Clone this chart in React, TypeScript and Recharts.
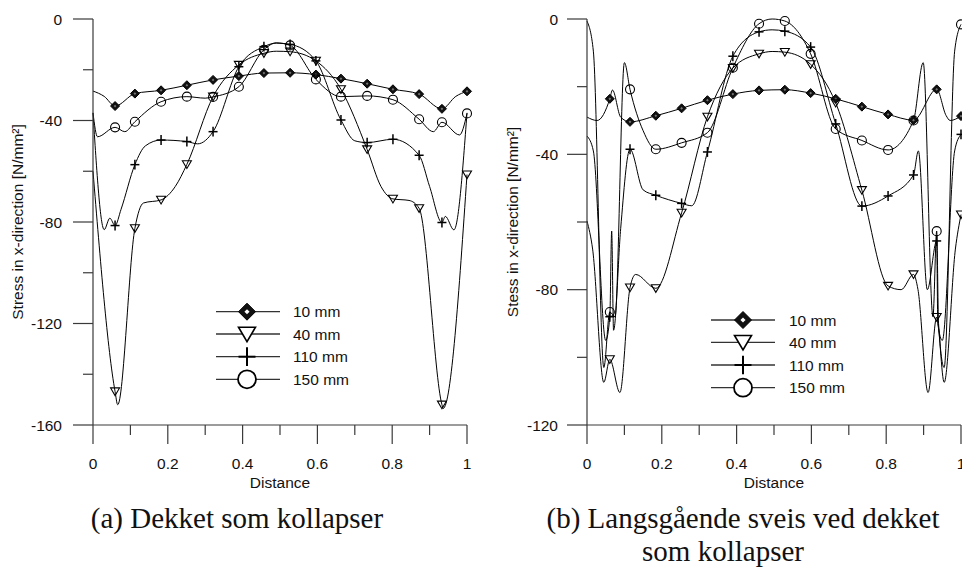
import React from "react";
import { LineChart, Line, XAxis, YAxis } from "recharts";

type Pt = [number, number, number?];

// x = distance (0..1), y = stress, third value 1 = point carries a marker
const distTicks = [0, 0.1, 0.2, 0.3, 0.4, 0.5, 0.6, 0.7, 0.8, 0.9, 1];
const stressTicksA = [0, -20, -40, -60, -80, -100, -120, -140, -160];
const stressTicksB = [0, -20, -40, -60, -80, -100, -120];
const seriesNames = ["10 mm", "40 mm", "110 mm", "150 mm"];
const markerKinds = ["diamond", "triangle", "plus", "circle"];

// (a) Dekket som kollapser
const a10: Pt[] = [
  [0, -28.4], [0.03, -30.5], [0.059, -34.3, 1], [0.112, -29.4, 1], [0.182, -28.1, 1],
  [0.251, -26.1, 1], [0.321, -24.0, 1], [0.39, -22.5, 1], [0.457, -21.3, 1], [0.527, -21.2, 1],
  [0.596, -21.9, 1], [0.663, -23.5, 1], [0.733, -25.5, 1], [0.802, -27.7, 1], [0.872, -29.6, 1],
  [0.933, -35.4, 1], [0.97, -30.5], [1, -28.5, 1],
];
const a40: Pt[] = [
  [0, -60], [0.059, -146.8, 1], [0.066, -152], [0.112, -82.5, 1], [0.135, -72.5],
  [0.182, -71.3, 1], [0.22, -66], [0.251, -57.3, 1], [0.321, -30.6, 1], [0.39, -18.1, 1],
  [0.457, -13.5, 1], [0.49, -12.7], [0.527, -12.9, 1], [0.596, -16.5, 1], [0.663, -27.7, 1],
  [0.733, -51.4, 1], [0.77, -66], [0.802, -70.9, 1], [0.845, -71.5], [0.872, -74.6, 1],
  [0.933, -152, 1], [0.936, -153.5], [1, -61.3, 1],
];
const a110: Pt[] = [
  [0, -37], [0.03, -83], [0.045, -78.5], [0.059, -81.4, 1], [0.075, -75], [0.112, -57.4, 1],
  [0.14, -50], [0.182, -47.7, 1], [0.251, -48.3, 1], [0.28, -49.2], [0.321, -44.4, 1],
  [0.39, -18.8, 1], [0.457, -10.9, 1], [0.49, -9.5], [0.527, -10.0, 1], [0.596, -16.5, 1],
  [0.663, -39.8, 1], [0.7, -48], [0.733, -48.7, 1], [0.802, -47.4, 1], [0.872, -53.7, 1],
  [0.9, -66], [0.933, -80.2, 1], [0.942, -77.8], [0.965, -83.1], [1, -37],
];
const a150: Pt[] = [
  [0, -37], [0.012, -46.4], [0.059, -42.7, 1], [0.085, -44.4], [0.112, -40.5, 1],
  [0.182, -32.6, 1], [0.251, -30.6, 1], [0.3, -31.2], [0.321, -30.7, 1], [0.39, -26.7, 1],
  [0.457, -12.1, 1], [0.49, -9.4], [0.527, -10.4, 1], [0.596, -23.8, 1], [0.663, -30.6, 1],
  [0.733, -30.3, 1], [0.802, -31.8, 1], [0.872, -39.5, 1], [0.91, -44.4], [0.933, -40.7, 1],
  [0.98, -45.7], [1, -37.2, 1],
];

// (b) Langsgående sveis ved dekket som kollapser
const b10: Pt[] = [
  [0, -29], [0.027, -30], [0.061, -23.6, 1], [0.068, -21], [0.09, -29], [0.115, -30.4, 1],
  [0.184, -28.6, 1], [0.253, -26.4, 1], [0.322, -24.0, 1], [0.39, -22.2, 1], [0.46, -21.1, 1],
  [0.529, -20.9, 1], [0.598, -21.9, 1], [0.665, -23.6, 1], [0.735, -25.9, 1], [0.805, -28.2, 1],
  [0.873, -29.9, 1], [0.935, -20.8, 1], [0.96, -28.5], [0.971, -30], [1, -28.7, 1],
];
const b40: Pt[] = [
  [0, -59.7], [0.015, -68], [0.045, -107.4], [0.061, -100.6, 1], [0.088, -110.4],
  [0.115, -79.4, 1], [0.13, -75.5], [0.184, -79.6, 1], [0.253, -57.3, 1], [0.322, -28.9, 1],
  [0.39, -14.5, 1], [0.46, -10.3, 1], [0.495, -9.6], [0.529, -9.8, 1], [0.598, -13.4, 1],
  [0.665, -24.8, 1], [0.735, -50.6, 1], [0.805, -78.9, 1], [0.84, -80], [0.873, -75.5, 1],
  [0.885, -80], [0.912, -110.4], [0.935, -88.1, 1], [0.955, -107.4], [0.985, -68], [1, -57.8, 1],
];
const b110: Pt[] = [
  [0, -34.6], [0.017, -39], [0.05, -95], [0.061, -88, 1], [0.066, -62.7], [0.071, -92],
  [0.09, -62], [0.115, -38.5, 1], [0.15, -50.5], [0.184, -52.1, 1], [0.253, -54.5, 1],
  [0.28, -55.2], [0.322, -39.3, 1], [0.39, -11, 1], [0.46, -3.8, 1], [0.495, -3.2],
  [0.529, -3.6, 1], [0.598, -8.3, 1], [0.665, -31, 1], [0.735, -55.3, 1], [0.805, -52.3, 1],
  [0.873, -46.1, 1], [0.886, -39], [0.91, -80], [0.935, -65.6, 1], [0.938, -90], [0.95, -95],
  [0.983, -39], [1, -34.1, 1],
];
const b150: Pt[] = [
  [0, -0.6], [0.017, -9.5], [0.045, -103], [0.061, -86.6, 1], [0.075, -88], [0.1, -12.9],
  [0.115, -20.8, 1], [0.15, -33], [0.184, -38.5, 1], [0.253, -36.6, 1], [0.322, -33.6, 1],
  [0.39, -14.4, 1], [0.46, -1.4, 1], [0.495, 0], [0.529, -0.6, 1], [0.598, -10.3, 1],
  [0.665, -32.5, 1], [0.735, -35.9, 1], [0.805, -38.7, 1], [0.873, -30, 1], [0.899, -12.9],
  [0.925, -88], [0.935, -62.7, 1], [0.94, -90], [0.955, -103], [0.983, -9.5], [1, -1.6, 1],
];

const FONT = '"Liberation Sans", Arial, sans-serif';
const SERIF = '"Liberation Serif", "Times New Roman", serif';
const AXIS = "#3a3a3a";

const toRows = (pts: Pt[]) => pts.map(([x, y, m]) => ({ x, y, m: !!m }));

function Marker({ kind, cx, cy, s, legend }: any) {
  if (kind === "diamond") {
    return (
      <g>
        <polygon
          points={`${cx},${cy - s} ${cx + s},${cy} ${cx},${cy + s} ${cx - s},${cy}`}
          fill="#111"
          stroke="#000"
          strokeWidth={1}
        />
        <polygon
          points={`${cx},${cy - s * 0.3} ${cx + s * 0.3},${cy} ${cx},${cy + s * 0.3} ${cx - s * 0.3},${cy}`}
          fill={legend ? "#fff" : "#777"}
        />
      </g>
    );
  }
  if (kind === "triangle") {
    return (
      <polygon
        points={`${cx - s},${cy - s * 0.8} ${cx + s},${cy - s * 0.8} ${cx},${cy + s * 0.9}`}
        fill={legend ? "#fff" : "none"}
        stroke="#000"
        strokeWidth={legend ? 1.6 : 1.1}
      />
    );
  }
  if (kind === "plus") {
    const w = legend ? 2 : 1.5;
    return (
      <g stroke="#000" strokeWidth={w}>
        <line x1={cx - s} x2={cx + s} y1={cy} y2={cy} />
        <line x1={cx} x2={cx} y1={cy - s * 1.1} y2={cy + s * 1.1} />
      </g>
    );
  }
  return (
    <circle cx={cx} cy={cy} r={s} fill={legend ? "#fff" : "none"} stroke="#000" strokeWidth={legend ? 1.8 : 1.1} />
  );
}

function YTick(props: any) {
  const { x, y, payload, gap } = props;
  const v = payload.value;
  const major = v % 40 === 0;
  return (
    <g>
      <line x1={x} x2={x - (major ? 20 : 10)} y1={y} y2={y} stroke={AXIS} strokeWidth={1.2} />
      {major && (
        <text x={x - gap} y={y + 5.5} textAnchor="end" fontSize={15.5} fontFamily={FONT} fill="#111">
          {v}
        </text>
      )}
    </g>
  );
}

function XTick(props: any) {
  const { x, y, payload } = props;
  const v = payload.value;
  const major = Math.round(v * 10) % 2 === 0;
  return (
    <g>
      <line x1={x} x2={x} y1={y} y2={y + (major ? 19 : 10)} stroke={AXIS} strokeWidth={1.2} />
      {major && (
        <text x={x} y={y + 44} textAnchor="middle" fontSize={15.5} fontFamily={FONT} fill="#111">
          {String(v)}
        </text>
      )}
    </g>
  );
}

function Panel({ left, width, plotLeft, domain, ticks, series, yLabel, yLabelX, gap }: any) {
  return (
    <div style={{ position: "absolute", left, top: 0 }}>
      <LineChart width={width} height={500} margin={{ top: 19, right: width - plotLeft - 374, left: 0, bottom: 0 }}>
        <XAxis
          type="number"
          dataKey="x"
          domain={[0, 1]}
          ticks={distTicks}
          interval={0}
          height={75}
          tickSize={0}
          tickMargin={0}
          tickLine={false}
          axisLine={{ stroke: AXIS, strokeWidth: 1.2 }}
          tick={(p: any) => <XTick {...p} />}
          label={{
            value: "Distance",
            content: (p: any) => {
              const vb = p.viewBox || { x: plotLeft, y: 425, width: 374 };
              return (
                <text x={vb.x + vb.width / 2} y={vb.y + 63} textAnchor="middle" fontSize={15.5} fontFamily={FONT} fill="#111">
                  Distance
                </text>
              );
            },
          }}
        />
        <YAxis
          type="number"
          domain={domain}
          ticks={ticks}
          interval={0}
          width={plotLeft}
          tickSize={0}
          tickMargin={0}
          tickLine={false}
          axisLine={{ stroke: AXIS, strokeWidth: 1.2 }}
          tick={(p: any) => <YTick {...p} gap={gap} />}
          label={{
            value: yLabel,
            content: (p: any) => {
              const vb = p.viewBox || { x: 0, y: 19, height: 406 };
              const cx = vb.x + yLabelX;
              const cy = vb.y + vb.height / 2;
              return (
                <text
                  x={cx}
                  y={cy}
                  transform={`rotate(-90 ${cx} ${cy})`}
                  textAnchor="middle"
                  dominantBaseline="central"
                  fontSize={15.5}
                  fontFamily={FONT}
                  fill="#111"
                >
                  {yLabel}
                </text>
              );
            },
          }}
        />
        {series.map((pts: Pt[], i: number) => (
          <Line
            key={seriesNames[i]}
            name={seriesNames[i]}
            data={toRows(pts)}
            dataKey="y"
            type="monotone"
            stroke="#000"
            strokeWidth={1}
            isAnimationActive={false}
            activeDot={false}
            dot={(p: any) => (
              <g key={`${i}-${p.index}`}>
                {p.payload && p.payload.m ? (
                  <Marker kind={markerKinds[i]} cx={p.cx} cy={p.cy} s={i === 3 ? 4.5 : 4.5} />
                ) : null}
              </g>
            )}
          />
        ))}
      </LineChart>
    </div>
  );
}

function LegendBox({ x1, x2, mx, tx, rows }: any) {
  return (
    <g>
      {seriesNames.map((name, i) => (
        <g key={name}>
          <line x1={x1} x2={x2} y1={rows[i]} y2={rows[i]} stroke="#333" strokeWidth={1.3} />
          <Marker kind={markerKinds[i]} cx={mx} cy={rows[i]} s={i === 3 ? 9 : 8.5} legend />
          <text x={tx} y={rows[i] + 5.5} fontSize={15.5} fontFamily={FONT} fill="#111">
            {name}
          </text>
        </g>
      ))}
    </g>
  );
}

export default function App() {
  return (
    <div style={{ position: "absolute", left: 0, top: 0, width: 962, height: 568, overflow: "hidden", background: "#fff" }}>
      <Panel
        left={0}
        width={480}
        plotLeft={93}
        domain={[-160, 0]}
        ticks={stressTicksA}
        series={[a10, a40, a110, a150]}
        yLabel="Stress in x-direction [N/mm²]"
        yLabelX={17}
        gap={31}
      />
      <Panel
        left={480}
        width={482}
        plotLeft={107}
        domain={[-120, 0]}
        ticks={stressTicksB}
        series={[b10, b40, b110, b150]}
        yLabel="Stess in x-direction [N/mm²]"
        yLabelX={32}
        gap={29}
      />
      <svg width={962} height={568} style={{ position: "absolute", left: 0, top: 0, pointerEvents: "none" }}>
        <LegendBox x1={216} x2={280} mx={247} tx={293} rows={[311.7, 334, 356.7, 379.3]} />
        <LegendBox x1={711} x2={775} mx={743} tx={789} rows={[320, 342.3, 365, 387.7]} />
        <text x={237} y={528} textAnchor="middle" fontSize={29} fontFamily={SERIF} fill="#111">
          (a) Dekket som kollapser
        </text>
        <text x={743} y={528} textAnchor="middle" fontSize={29} fontFamily={SERIF} fill="#111">
          (b) Langsgående sveis ved dekket
        </text>
        <text x={723} y={561} textAnchor="middle" fontSize={29} fontFamily={SERIF} fill="#111">
          som kollapser
        </text>
      </svg>
    </div>
  );
}
